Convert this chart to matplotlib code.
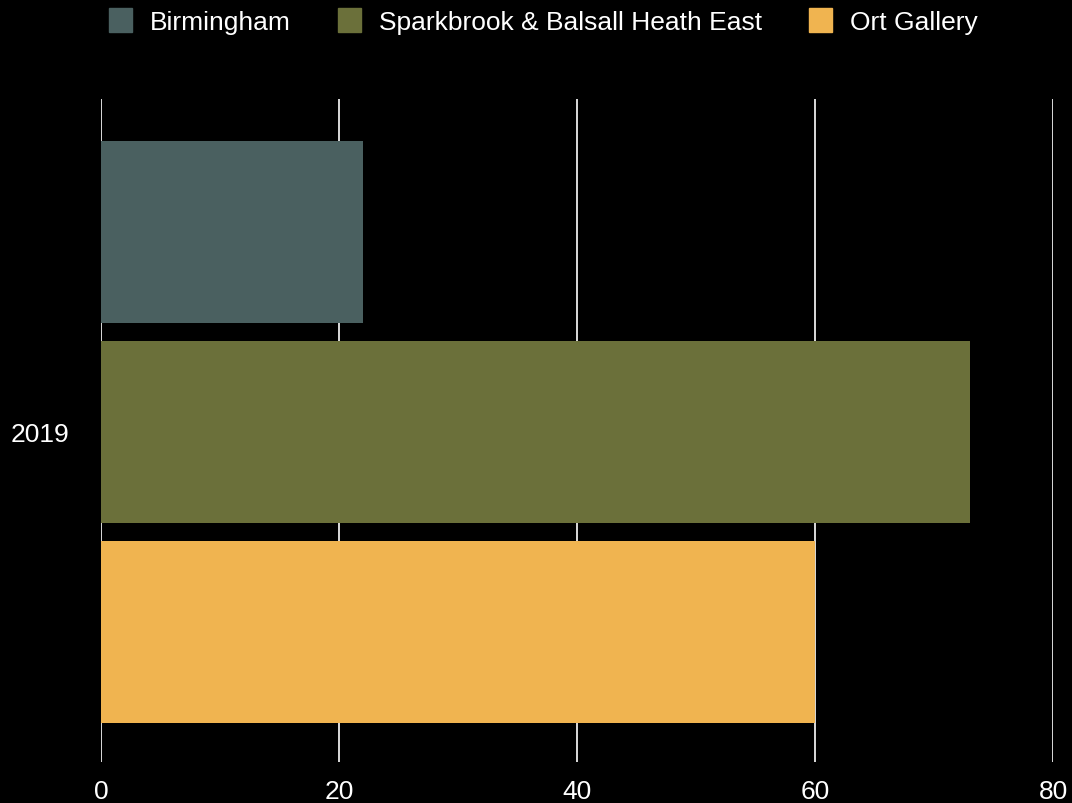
import matplotlib
matplotlib.use("Agg")
import matplotlib.pyplot as plt
from matplotlib.patches import Patch

plt.rcParams['font.family'] = ['Liberation Sans', 'DejaVu Sans']

years = ["2019"]
series = ["Birmingham", "Sparkbrook & Balsall Heath East", "Ort Gallery"]
values = [22, 73, 60]
colors = ["#4a6060", "#6b703a", "#f0b450"]
xticks = [0, 20, 40, 60, 80]

fig = plt.figure(figsize=(10.72, 8.04), dpi=100, facecolor="black")
ax = fig.add_axes([101/1072, 1 - 763/804, (1053-101)/1072, (763-100)/804])
ax.set_facecolor("black")

offsets = [-1, 0, 1]
for off, v, c in zip(offsets, values, colors):
    ax.barh(off, v, height=0.91, color=c, zorder=3)

ax.set_ylim(1.65, -1.665)
ax.set_xlim(0, 80)
ax.set_xticks(xticks)
ax.set_yticks([0])
ax.set_yticklabels(years)
ax.grid(axis="x", color="white", linewidth=1.2, zorder=1)
for s in ax.spines.values():
    s.set_visible(False)
ax.tick_params(axis="both", length=0, colors="white", labelsize=19)
ax.tick_params(axis="x", pad=12)
ax.tick_params(axis="y", pad=23)

handles = [Patch(color=c, label=s) for s, c in zip(series, colors)]
fig.legend(handles=handles, loc="upper center", bbox_to_anchor=(0.507, 1.018), ncol=3,
           frameon=False, fontsize=19, labelcolor="white", handlelength=0.87,
           handleheight=1.0, handletextpad=0.68, columnspacing=1.78)

fig.savefig("out.png", dpi=100, facecolor="black")
